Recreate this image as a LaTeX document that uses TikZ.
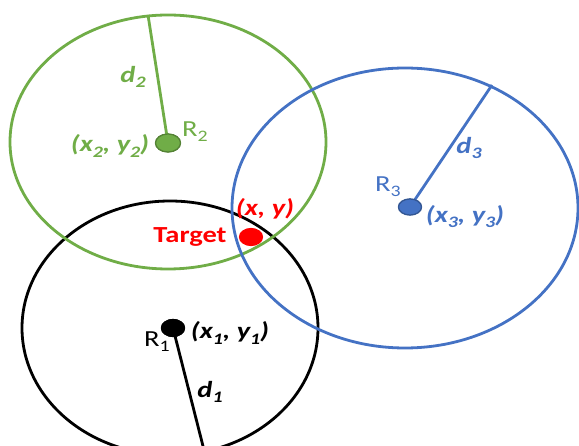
\documentclass[tikz,border=0pt]{standalone}
\usepackage{fontspec}
\setmainfont{Carlito}[FakeStretch=1.24]
\usetikzlibrary{shapes.geometric}
\definecolor{og}{RGB}{112,173,71}
\definecolor{ob}{RGB}{68,114,196}
\definecolor{ored}{RGB}{255,0,0}
\newcommand{\lowidx}[1]{\raisebox{-0.22em}{\fontsize{16}{16}\selectfont #1}}
\tikzset{
  ring/.style={line width=2.8pt},
  rad/.style={line width=2.8pt},
  dot/.style={ellipse, inner sep=0pt, minimum width=23pt, minimum height=17pt, line width=1.2pt},
  lbl/.style={inner sep=0pt, font=\fontsize{23}{27}\selectfont\bfseries\itshape},
  rlbl/.style={inner sep=0pt, font=\fontsize{23}{27}\selectfont},
}
\begin{document}
\begin{tikzpicture}[x=1pt,y=-1pt]
\useasboundingbox (0,0) rectangle (579,446);
\clip (0,0) rectangle (579,446);
% centres and rim points
\coordinate (c2) at (168,142);
\coordinate (c3) at (405,208);
\coordinate (c1) at (170,328);
\coordinate (g2top) at (148,15);
\coordinate (b3top) at (492,85);
\coordinate (k1bot) at (204,450);
% circles
\draw[ring, black] (c1) ellipse [x radius=148, y radius=127];
\draw[ring, og] (c2) ellipse [x radius=158, y radius=127];
\draw[ring, ob] (c3) ellipse [x radius=173, y radius=140];
% dots
\node[dot, fill=og, draw=og!75!black, minimum width=25pt, minimum height=18pt] (r2) at (168,143) {};
\node[dot, fill=ob, draw=ob!75!black, minimum width=23pt, minimum height=16pt] (r3) at (410,207) {};
\node[dot, fill=black, draw=black] (r1) at (173,328) {};
\node[dot, fill=ored, draw=ored] (tg) at (251,237) {};
% radii
\draw[rad, og] (r2.center) -- (g2top);
\draw[rad, ob] (r3.center) -- (b3top);
\draw[rad, black] (r1.center) -- (k1bot);
\node[dot, fill=og, draw=og!75!black, minimum width=25pt, minimum height=18pt] at (r2) {};
\node[dot, fill=ob, draw=ob!75!black, minimum width=23pt, minimum height=16pt] at (r3) {};
\node[dot, fill=black, draw=black] at (r1) {};
% labels
\node[lbl, og] (ld2) at (133,77) {d\lowidx{2}};
\node[rlbl, og] (lr2) at (195,132) {R\lowidx{2}};
\node[lbl, og] (lxy2) at (110,146) {(x\lowidx{2}, y\lowidx{2})};
\node[lbl, ob] (ld3) at (469,148) {d\lowidx{3}};
\node[rlbl, ob] (lr3) at (388,187) {R\lowidx{3}};
\node[lbl, ob] (lxy3) at (465,217) {(x\lowidx{3}, y\lowidx{3})};
\node[lbl, ored] (lxy) at (265,209) {(x, y)};
\node[inner sep=0pt, ored, font=\fontsize{23}{27}\selectfont\bfseries] (ltg) at (190,237) {Target};
\node[rlbl, black] (lr1) at (157,342) {R\lowidx{1}};
\node[lbl, black] (lxy1) at (230,333) {(x\lowidx{1}, y\lowidx{1})};
\node[lbl, black] (ld1) at (210,392) {d\lowidx{1}};
\end{tikzpicture}
\end{document}
